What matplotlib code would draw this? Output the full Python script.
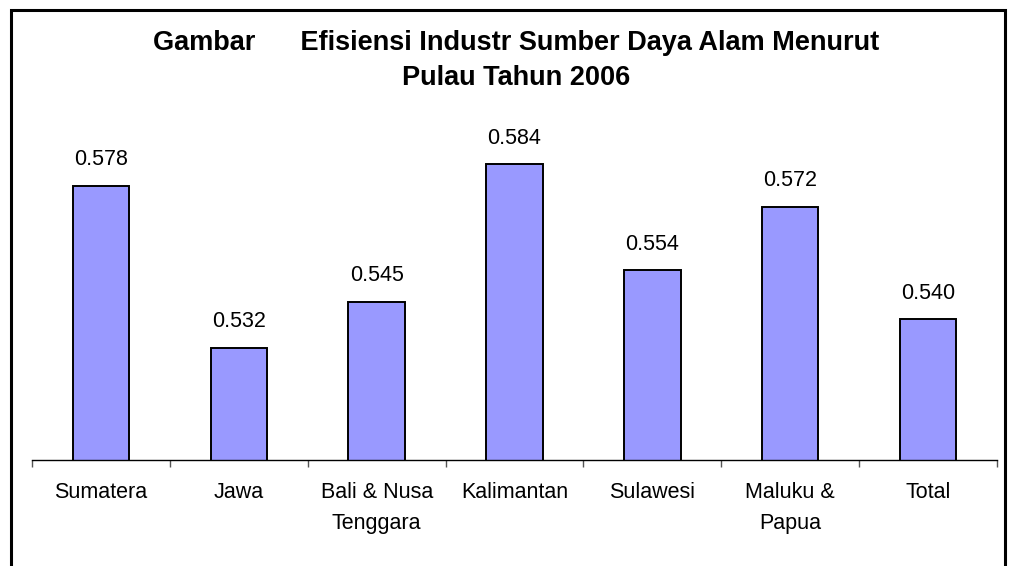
import numpy as np
import matplotlib.pyplot as plt
from matplotlib.patches import Rectangle

plt.rcParams['font.family'] = ['Liberation Sans', 'DejaVu Sans']

# Data
pulau = ['Sumatera', 'Jawa', 'Bali & Nusa\nTenggara', 'Kalimantan',
         'Sulawesi', 'Maluku &\nPapua', 'Total']
efisiensi = [0.578, 0.532, 0.545, 0.584, 0.554, 0.572, 0.540]

fig = plt.figure(figsize=(10.14, 5.66), dpi=100)
ax = fig.add_axes([0.0316, 0.187, 0.9516, 0.622])

x = np.arange(len(pulau))
bars = ax.bar(x, efisiensi, width=0.41, color='#9999FF',
              edgecolor='black', linewidth=1.4)

for xi, v in zip(x, efisiensi):
    ax.annotate(f'{v:.3f}', (xi, v), xytext=(0, 11), textcoords='offset points',
                ha='center', va='bottom', fontsize=15.5)

ax.set_xlim(-0.5, len(pulau) - 0.5)
ax.set_ylim(0.50, 0.60)

ax.set_xticks(x)
ax.set_xticklabels(pulau, fontsize=15.5, linespacing=1.6)
ax.set_xticks(np.arange(len(pulau) + 1) - 0.5, minor=True)
ax.tick_params(axis='x', which='major', length=0, pad=16)
ax.tick_params(axis='x', which='minor', length=5, width=1, color='#555555')
ax.set_yticks([])

for s in ['top', 'right', 'left']:
    ax.spines[s].set_visible(False)
ax.spines['bottom'].set_linewidth(1)

fig.text(0.509, 0.924, 'Gambar      Efisiensi Industr Sumber Daya Alam Menurut',
         ha='center', va='center', fontsize=19.5, fontweight='bold')
fig.text(0.509, 0.862, 'Pulau Tahun 2006',
         ha='center', va='center', fontsize=19.5, fontweight='bold')

# outer border of the chart area
fig.patches.append(Rectangle((0.0105, -0.05), 0.981, 1.032, transform=fig.transFigure,
                             fill=False, edgecolor='black', linewidth=2.2))

fig.savefig('out.png', dpi=100)
